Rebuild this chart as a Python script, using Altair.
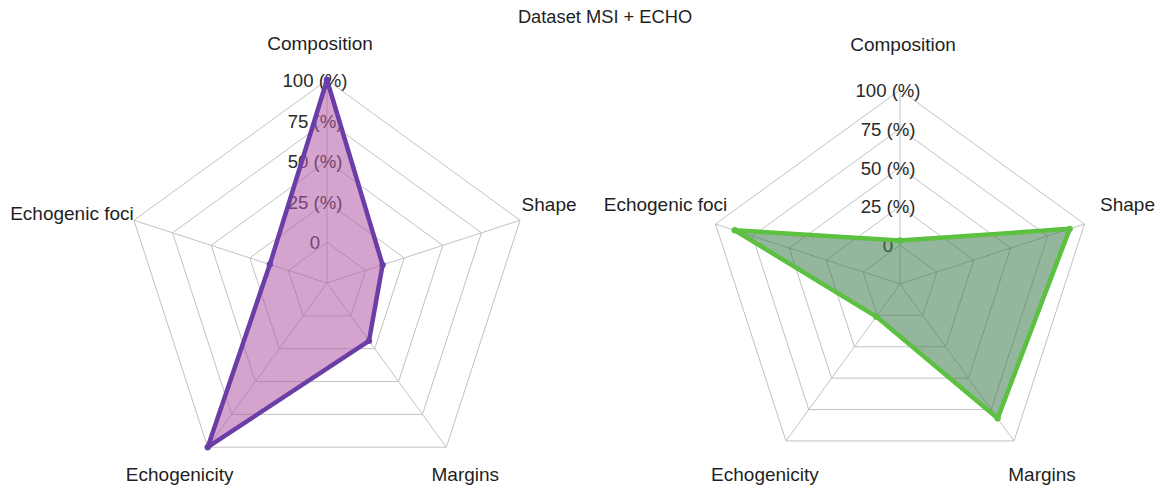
import math
import altair as alt
import pandas as pd

W, H = 1160, 490
FONT = "Liberation Sans"

# Radar axes, clockwise from the top
CATEGORIES = ["Composition", "Shape", "Margins", "Echogenicity", "Echogenic foci"]
MSI_VALUES = [100, 11, 19, 100, 12]
ECHO_VALUES = [3, 90, 82, 1, 87]
RING_LABELS = ["0", "25 (%)", "50 (%)", "75 (%)", "100 (%)"]
RING_VALUES = [0, 25, 50, 75, 100]
TITLE = "Dataset MSI + ECHO"

# radial scale: the innermost ring is 0 %, the outer ring 100 %
R_LOW, R_HIGH = -25, 100

# layout / style of each radar
PANELS = {
    "msi": dict(values=MSI_VALUES, cx=327, cy=283, R=203,
                fill="#b25aa5", stroke="#6a3ea6",
                nudge={"Composition": (-7, -36), "Shape": (29, -15),
                       "Margins": (19, 28), "Echogenicity": (-28, 28),
                       "Echogenic foci": (-62, -6)}),
    "echo": dict(values=ECHO_VALUES, cx=900, cy=284, R=194,
                 fill="#3d7a4b", stroke="#5cc040",
                 nudge={"Composition": (3, -45), "Shape": (43, -19),
                        "Margins": (28, 34), "Echogenicity": (-21, 34),
                        "Echogenic foci": (-50, -19)}),
}

N = len(CATEGORIES)
X = alt.X("px:Q", scale=alt.Scale(domain=[0, W], nice=False, zero=False), axis=None)
Y = alt.Y("py:Q", scale=alt.Scale(domain=[0, H], nice=False, zero=False, reverse=True), axis=None)


def polar(chart, p, frac_expr):
    """Turn (idx, radial fraction) into plot coordinates for panel p."""
    return chart.transform_calculate(
        theta=f"datum.idx * 2 * PI / {N}",
        frac=frac_expr,
    ).transform_calculate(
        px=f"{p['cx']} + datum.frac * {p['R']} * sin(datum.theta)",
        py=f"{p['cy']} - datum.frac * {p['R']} * cos(datum.theta)",
    )


layers = []
for key, p in PANELS.items():
    # grid rings
    rings = pd.DataFrame([{"ring": k, "idx": i % N, "seq": i}
                          for k in range(1, 6) for i in range(N + 1)])
    layers.append(polar(alt.Chart(rings), p, "datum.ring / 5").mark_line(
        stroke="#c2c2c2", strokeWidth=1).encode(x=X, y=Y, detail="ring:N", order="seq:Q"))

    # spokes
    spokes = pd.DataFrame([{"spoke": i, "idx": i, "end": e} for i in range(N) for e in (0, 1)])
    layers.append(polar(alt.Chart(spokes), p, "datum.end").mark_line(
        stroke="#c2c2c2", strokeWidth=1).encode(x=X, y=Y, detail="spoke:N", order="end:Q"))

    # ring value labels along the top spoke
    ring_lab = pd.DataFrame({"label": RING_LABELS, "value": RING_VALUES, "idx": 0})
    layers.append(polar(alt.Chart(ring_lab), p,
                        f"(datum.value - ({R_LOW})) / ({R_HIGH} - ({R_LOW}))").mark_text(
        font=FONT, fontSize=18.6, color="#2a2a2a", align="center", baseline="middle",
        dx=-12, dy=1).encode(x=X, y=Y, text="label:N"))

    # series polygon (closed by repeating the first vertex)
    vals = p["values"]
    series = pd.DataFrame([{"category": CATEGORIES[i % N], "value": vals[i % N],
                            "idx": i % N, "seq": i} for i in range(N + 1)])
    frac = f"(datum.value - ({R_LOW})) / ({R_HIGH} - ({R_LOW}))"
    base = polar(alt.Chart(series), p, frac)
    layers.append(base.mark_line(fill=p["fill"], fillOpacity=0.55, strokeOpacity=0).encode(
        x=X, y=Y, order="seq:Q"))
    layers.append(base.mark_line(stroke=p["stroke"], strokeWidth=4.5, strokeJoin="round").encode(
        x=X, y=Y, order="seq:Q"))
    layers.append(base.mark_circle(color=p["stroke"], size=40, opacity=1).encode(x=X, y=Y))

    # category labels
    for i, cat in enumerate(CATEGORIES):
        dx, dy = p["nudge"][cat]
        cat_df = pd.DataFrame({"category": [cat], "idx": [i]})
        layers.append(polar(alt.Chart(cat_df), p, "1").mark_text(
            font=FONT, fontSize=19, color="#1f1f1f", align="center", baseline="middle",
            dx=dx, dy=dy).encode(x=X, y=Y, text="category:N"))

# title centred above both radars
title_df = pd.DataFrame({"label": [TITLE], "px": [W / 2 + 25], "py": [18]})
layers.append(alt.Chart(title_df).mark_text(
    font=FONT, fontSize=18.3, color="#1f1f1f", align="center", baseline="middle").encode(
    x=X, y=Y, text="label:N"))

chart = alt.layer(*layers).properties(
    width=W, height=H, padding=0, autosize="none", background="white"
).configure_view(stroke=None)

chart.save("out.html", embed_options={"renderer": "svg", "actions": False})
